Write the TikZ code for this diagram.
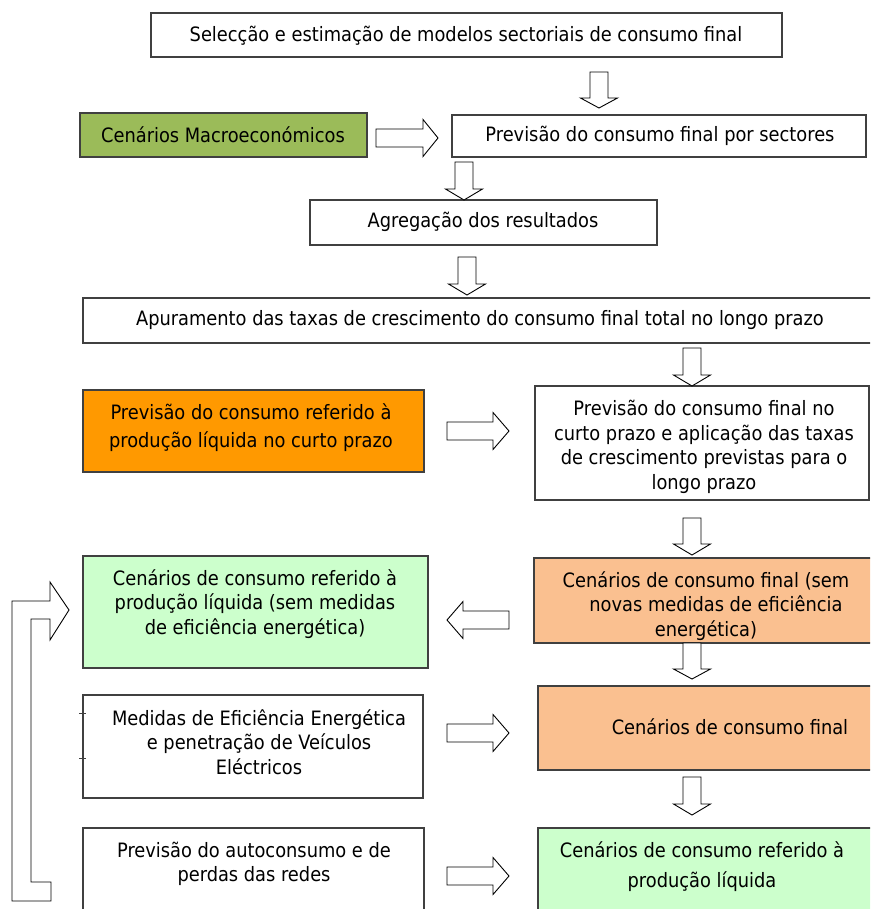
\documentclass[tikz,border=0pt]{standalone}
\usepackage{fontspec}
\setmainfont{DejaVu Sans Condensed}
\usetikzlibrary{calc}

\definecolor{edgegray}{HTML}{404040}
\definecolor{macrogreen}{HTML}{9BBB59}
\definecolor{hotorange}{HTML}{FF9900}
\definecolor{palegreen}{HTML}{CCFFCC}
\definecolor{peach}{HTML}{FAC090}

% hollow block arrow: tail point, direction angle, total length, head length
\newcommand{\blockarrow}[4]{%
  \begin{scope}[shift={(#1)}, rotate=#2]
    \draw[fat] (0,-9) -- ({#3-#4},-9) -- ({#3-#4},-18.5) -- (#3,0)
      -- ({#3-#4},18.5) -- ({#3-#4},9) -- (0,9) -- cycle;
  \end{scope}}

\begin{document}
\begin{tikzpicture}[x=1pt, y=-1pt,
  box/.style={draw=edgegray, line width=1.2pt, anchor=north west,
    inner sep=0pt, outer sep=0pt},
  lbl/.style={align=center, inner sep=0pt, text=black,
    font=\fontsize{19.8}{24.5}\selectfont},
  fat/.style={draw=black, line width=0.9pt, fill=white, line join=miter}]

\useasboundingbox (0,0) rectangle (870,909);
\clip (0,0) rectangle (870,909);

% ---- boxes
\node[box, minimum width=631, minimum height=44] (sel) at (151,13) {};
\node[box, fill=macrogreen, minimum width=287, minimum height=44] (macro) at (80,113) {};
\node[box, minimum width=414, minimum height=42] (sect) at (452,115) {};
\node[box, minimum width=347, minimum height=45] (agr) at (310,200) {};
\node[box, minimum width=794, minimum height=45] (apur) at (83,298) {};
\node[box, fill=hotorange, minimum width=341, minimum height=82] (curto) at (83,390) {};
\node[box, minimum width=334, minimum height=114] (prev) at (535,386) {};
\node[box, fill=palegreen, minimum width=345, minimum height=112] (liqsem) at (83,556) {};
\node[box, fill=peach, minimum width=346, minimum height=85] (semmed) at (534,558) {};
\node[box, fill=peach, minimum width=342, minimum height=84] (final) at (538,686) {};
\node[box, minimum width=340, minimum height=103] (medidas) at (83,695) {};
\node[box, minimum width=341, minimum height=92] (auto) at (83,828) {};
\node[box, fill=palegreen, minimum width=342, minimum height=92] (liq) at (538,828) {};

% small ticks on the left edge of the measures box
\draw[edgegray, line width=0.8pt] (79,713) -- (86,713) (79,758) -- (86,758);

% ---- texts
\node[lbl] (tsel) at (466,36) {Selecção e estimação de modelos sectoriais de consumo final};
\node[lbl] (tmacro) at (223,135) {Cenários Macroeconómicos};
\node[lbl] (tsect) at (660,136) {Previsão do consumo final por sectores};
\node[lbl] (tagr) at (483,222) {Agregação dos resultados};
\node[lbl] (tapur) at (480,320) {Apuramento das taxas de crescimento do consumo final total no longo prazo};
\node[lbl, font=\fontsize{19.8}{28}\selectfont] (tcurto) at (251,428)
  {Previsão do consumo referido à\\produção líquida no curto prazo};
\node[lbl] (tprev) at (704,447)
  {Previsão do consumo final no\\curto prazo e aplicação das taxas\\de crescimento previstas para o\\longo prazo};
\node[lbl] (tliqsem) at (255,604)
  {Cenários de consumo referido à\\produção líquida (sem medidas\\de eficiência energética)};
\node[lbl] (tsemmed) at (706,606)
  {Cenários de consumo final (sem\\\hspace*{20pt}novas medidas de eficiência\\energética)};
\node[lbl] (tfinal) at (730,727) {Cenários de consumo final};
\node[lbl] (tmedidas) at (259,742)
  {Medidas de Eficiência Energética\\e penetração de Veículos\\Eléctricos};
\node[lbl] (tauto) at (254,864) {Previsão do autoconsumo e de\\perdas das redes};
\node[lbl, font=\fontsize{19.8}{30}\selectfont] (tliq) at (702,867)
  {Cenários de consumo referido à\\produção líquida};

% ---- block arrows
\blockarrow{599,72}{-90}{36}{10}
\blockarrow{464,162}{-90}{38}{11}
\blockarrow{467,257}{-90}{38}{11}
\blockarrow{692,348}{-90}{38}{11}
\blockarrow{692,518}{-90}{37}{11}
\blockarrow{692,643}{-90}{36}{10}
\blockarrow{692,777}{-90}{38}{11}
\blockarrow{376,138}{0}{62}{15}
\blockarrow{447,431}{0}{62}{16}
\blockarrow{447,733}{0}{62}{16}
\blockarrow{447,876}{0}{62}{16}
\blockarrow{509,620}{180}{62}{16}

% feedback arrow along the left margin
\draw[fat] (51,882) -- (31,882) -- (31,619) -- (50,619) -- (50,640)
  -- (69,610) -- (50,582) -- (50,601) -- (12,601) -- (12,901)
  -- (51,901) -- cycle;

\end{tikzpicture}
\end{document}
